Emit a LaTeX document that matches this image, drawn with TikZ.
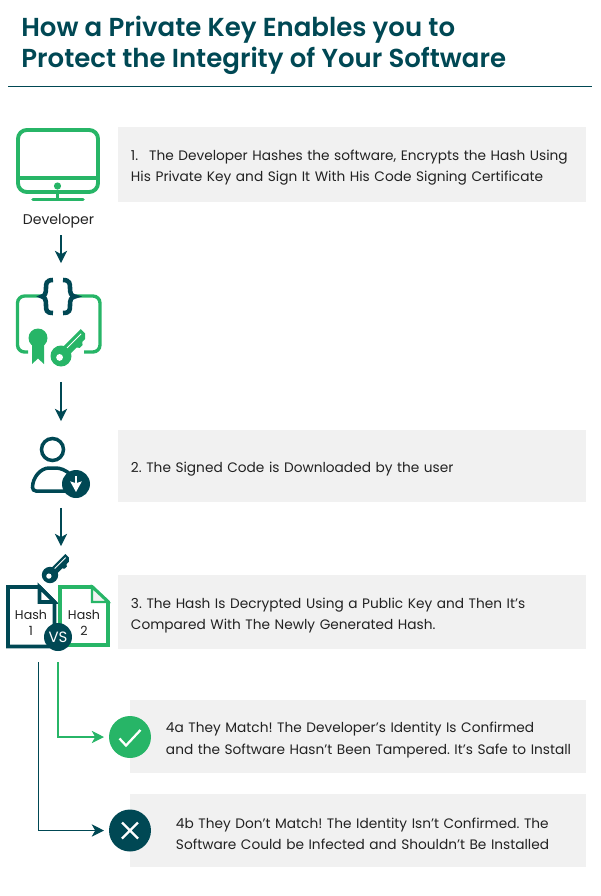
\documentclass[tikz,border=0pt]{standalone}
\usepackage{fontspec}
\setmainfont{Poppins}
\newfontfamily\headfont{Poppins}[UprightFont=* SemiBold]
\usepackage{tikz}
\usetikzlibrary{arrows.meta,positioning,calc}
\usepackage{xcolor}
\frenchspacing
\definecolor{deepteal}{RGB}{0,72,84}
\definecolor{signgreen}{RGB}{39,181,103}
\definecolor{panelgray}{RGB}{241,241,241}
\definecolor{inkgray}{RGB}{34,34,34}
\tikzset{
  infobox/.style={anchor=west,fill=panelgray,minimum height=#1,align=left,text=inkgray,
    font=\fontsize{7.8}{12}\selectfont,inner ysep=0pt,outer sep=0pt},
  iconslot/.style={minimum width=1.7cm,minimum height=#1,inner sep=0pt,outer sep=0pt},
  flowarrow/.style={-{Stealth[length=7pt,width=7pt,inset=2pt]},line width=0.8pt,deepteal},
  hashlabel/.style={align=center,text=inkgray,font=\fontsize{7.2}{9}\selectfont,inner sep=0pt},
  resultdot/.style={circle,minimum size=0.84cm,inner sep=0pt,outer sep=0pt},
  headline/.style={anchor=west,inner sep=0pt,text=deepteal,font=\headfont\fontsize{14.8}{17}\selectfont},
}
\newcommand{\panelstrut}{\rule{0pt}{10pt}}
\newcommand{\keyglyph}[5]{% x, y, scale, colour, slit colour
  \begin{scope}[shift={(#1,#2)},rotate=45,scale=#3]
    \fill[#4] (0,0) circle (10.5);
    \fill[#4] (0,-5) -- (33,-5) -- (33,1) -- (29,5) -- (25,5) -- (23,7.5) -- (19,7.5) -- (17,5) -- (0,5) -- cycle;
    \fill[white] (-2,0) circle (3.4);
    \draw[#5,line width=0.5pt] (10,-1.5) -- (30,-1.5);
  \end{scope}}
\begin{document}
\begin{tikzpicture}[x=0.02cm,y=-0.02cm]
  \useasboundingbox (0,0) rectangle (600,896);
  % heading
  \node[headline] (headone) at (21,30) {How a Private Key Enables you to};
  \node[headline] (headtwo) at (21,61) {Protect the Integrity of Your Software};
  \draw[deepteal,line width=0.4pt] (8,86.5) -- (592,86.5);

  % text panels
  \node[infobox=1.5cm,inner xsep=0.26cm,text width=8.84cm] (stepone) at (118,164.5)
    {\panelstrut 1.\hspace{0.8em}The Developer Hashes the software, Encrypts the Hash Using\\His Private Key and Sign It With His Code Signing Certificate};
  \node[infobox=1.44cm,inner xsep=0.26cm,text width=8.84cm] (steptwo) at (118,466)
    {\panelstrut 2. The Signed Code is Downloaded by the user};
  \node[infobox=1.48cm,inner xsep=0.26cm,text width=8.84cm] (stepthree) at (118,612)
    {\panelstrut 3. The Hash Is Decrypted Using a Public Key and Then It’s\\Compared With The Newly Generated Hash.};
  \node[infobox=1.46cm,inner xsep=0.1cm,text width=8.92cm] (stepmatch) at (130,736.5)
    {\panelstrut\hspace*{0.62cm}4a They Match! The Developer’s Identity Is Confirmed\\\hspace*{0.62cm}and the Software Hasn’t Been Tampered. It’s Safe to Install};
  \node[infobox=1.46cm,inner xsep=0.1cm,text width=8.92cm] (stepnomatch) at (130,830.5)
    {\panelstrut\hspace*{0.82cm}4b They Don’t Match! The Identity Isn’t Confirmed. The\\\hspace*{0.82cm}Software Could be Infected and Shouldn’t Be Installed};

  % monitor
  \draw[signgreen,line width=2.2pt,rounded corners=5pt] (18,130) rectangle (98,192);
  \draw[signgreen,line width=2.2pt] (18,178) -- (98,178);
  \fill[signgreen] (57.5,186) circle (3.6);
  \draw[signgreen,line width=1.6pt] (57.5,192) -- (57.5,199);
  \draw[signgreen,line width=2pt,line cap=round] (33,199.5) -- (83,199.5);
  \node[text=inkgray,font=\fontsize{8}{9}\selectfont,inner sep=0pt] (developer) at (58.5,221) {Developer};
  \coordinate (devend) at (61,235);

  % signed code
  \node[iconslot=2.38cm] (codeicon) at (61,322.5) {};
  \draw[signgreen,line width=1.9pt,rounded corners=4pt] (42,296) -- (17.5,296) -- (17.5,352) -- (28,352);
  \draw[signgreen,line width=1.9pt,rounded corners=4pt] (76,296) -- (100,296) -- (100,352) -- (84,352);
  \draw[deepteal,line width=2.6pt] (53,280) .. controls (46,280) and (46,284) .. (46,288)
    .. controls (46,293) and (45,296) .. (42,296.5) .. controls (45,297) and (46,300) .. (46,305)
    .. controls (46,310) and (46,313) .. (53,313);
  \draw[deepteal,line width=2.6pt] (63,280) .. controls (70,280) and (70,284) .. (70,288)
    .. controls (70,293) and (71,296) .. (75,296.5) .. controls (71,297) and (70,300) .. (70,305)
    .. controls (70,310) and (70,313) .. (63,313);
  \fill[signgreen] (38,338) circle (9.5);
  \fill[signgreen] (32,344) -- (44,344) -- (44,364) -- (38,358.5) -- (32,364) -- cycle;
  \keyglyph{61}{356}{1}{signgreen}{white}

  % user
  \node[iconslot=1.74cm] (usericon) at (61,464.5) {};
  \draw[deepteal,line width=2pt] (52.5,449.5) circle (11);
  \draw[deepteal,line width=2pt,rounded corners=2pt] (68,491) -- (32.5,491)
    .. controls (32.5,477) and (41,468) .. (52.5,468) .. controls (60,468) and (66,470) .. (71,475);
  \fill[deepteal] (76,484) circle (14);
  \draw[white,line width=0.9pt,-{Stealth[length=6pt,width=6.5pt,inset=1pt]}] (76,476) -- (76,492);

  % hashes
  \node[iconslot=1.0cm] (hashicon) at (61,571) {};
  \keyglyph{50}{575}{0.78}{deepteal}{white}
  \filldraw[draw=deepteal,fill=white,line width=2.2pt] (8,587) -- (39.5,587) -- (54.5,602) -- (54.5,646.5) -- (8,646.5) -- cycle;
  \filldraw[draw=deepteal,fill=white,line width=2.2pt] (39.5,587) -- (39.5,602) -- (54.5,602) -- cycle;
  \filldraw[draw=signgreen,fill=white,line width=2.2pt] (60,587) -- (92,587) -- (108,602) -- (108,645) -- (60,645) -- cycle;
  \filldraw[draw=signgreen,fill=panelgray,line width=1.4pt] (92,587) -- (92,602) -- (108,602) -- cycle;
  \node[hashlabel] (hashone) at (31,622.5) {Hash\\1};
  \node[hashlabel] (hashtwo) at (84,622.5) {Hash\\2};
  \node[circle,fill=deepteal,text=white,minimum size=0.56cm,inner sep=0pt,font=\fontsize{8.5}{9}\selectfont] (versus) at (58,637) {VS};

  % outcomes
  \node[resultdot,fill=signgreen] (matchdot) at (130,737) {};
  \draw[white,line width=1.3pt] (119.5,738.5) -- (126,745.5) -- (140.5,730);
  \node[resultdot,fill=deepteal] (nomatchdot) at (130,830.5) {};
  \draw[white,line width=1.3pt] (122,822.5) -- (138,838.5) (138,822.5) -- (122,838.5);

  % connectors
  \draw[flowarrow] (devend) -- (codeicon.north);
  \draw[flowarrow] (codeicon.south) -- (usericon.north);
  \draw[flowarrow] (usericon.south) -- (hashicon.north);
  \coordinate (greenstart) at (58,662);
  \coordinate (tealstart) at (38.5,662);
  \draw[signgreen,line width=0.7pt,-{Stealth[length=7pt,width=7pt,inset=2pt]},shorten >=0.1cm]
    (greenstart) |- (matchdot.west);
  \draw[deepteal,line width=0.7pt,-{Stealth[length=7pt,width=7pt,inset=2pt]},shorten >=0.1cm]
    (tealstart) |- (nomatchdot.west);
\end{tikzpicture}
\end{document}
